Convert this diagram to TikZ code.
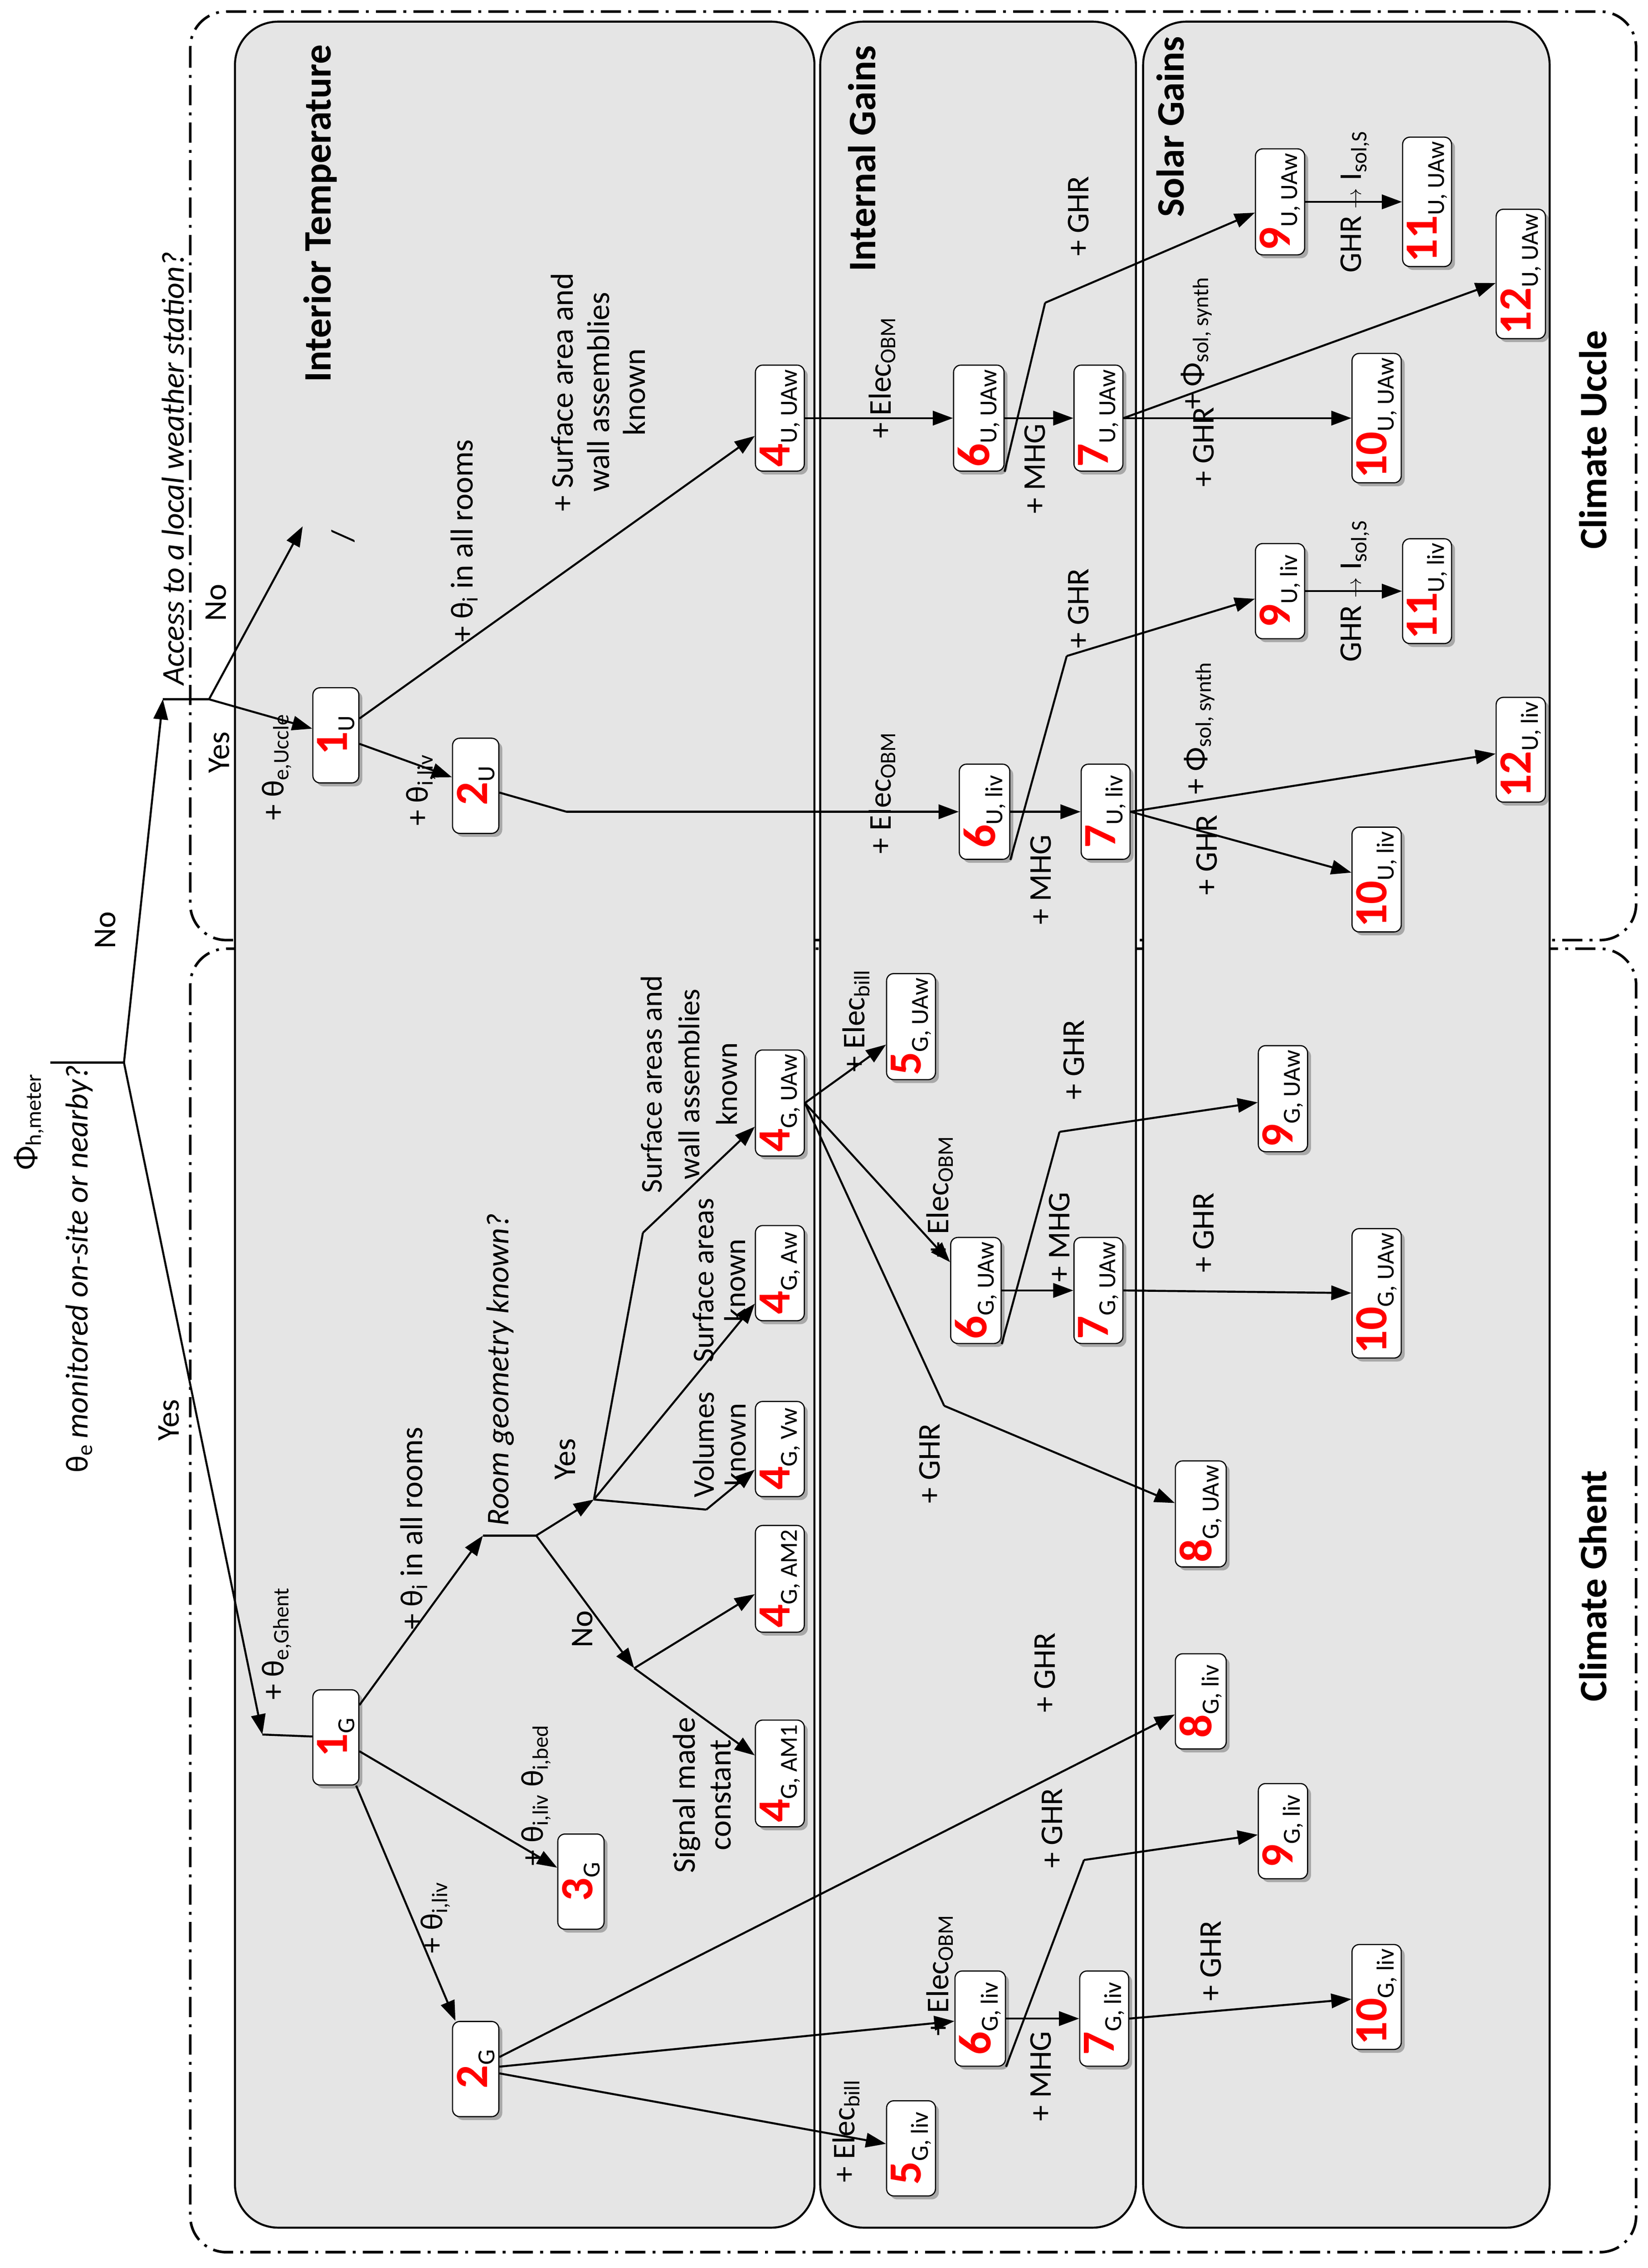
\documentclass[tikz,border=0pt]{standalone}
\usepackage{fontspec}
\setmainfont{Carlito}
\usetikzlibrary{arrows.meta,shadows}
\tikzset{
  box/.style={draw,thick,rounded corners=5pt,fill=white,drop shadow={opacity=0.6},rotate=90,minimum width=66pt,minimum height=31pt,inner sep=3pt,font=\fontsize{22}{24}\selectfont},
  lbl/.style={rotate=90,font=\fontsize{22}{25}\selectfont,align=center,inner sep=1pt},
  ttl/.style={rotate=90,font=\fontsize{27}{30}\selectfont\bfseries},
  panel/.style={draw,line width=1.4pt,fill=black!10,rounded corners=30pt},
  zone/.style={draw,line width=1.8pt,dash pattern=on 14pt off 5pt on 2pt off 5pt,rounded corners=25pt},
  arr/.style={line width=1.4pt,-{Triangle[length=14pt,width=10pt]}},
  ln/.style={line width=1.4pt}
}
\newcommand{\bx}[2]{{\fontsize{32}{32}\selectfont\bfseries\color{red}#1}\raisebox{-5pt}{\fontsize{17}{17}\selectfont #2}}
\newcommand{\thk}{{\Large$\rightarrow$}}
\begin{document}
\begin{tikzpicture}[x=1pt,y=-1pt]
\useasboundingbox (0,0) rectangle (1143,1573);
% climate zones and panels
\draw[zone] (132,8) rectangle (1135,652);
\draw[zone] (132,658) rectangle (1135,1562);
\draw[panel] (163,15) rectangle (565,1545);
\draw[panel] (569,15) rectangle (788,1545);
\draw[panel] (793,15) rectangle (1075,1545);
\node[ttl] (tIT) at (222,148) {Interior Temperature};
\node[ttl] (tIG) at (598,110) {Internal Gains};
\node[ttl] (tSG) at (812,88) {Solar Gains};
\node[ttl] (tCU) at (1105,305) {Climate Uccle};
\node[ttl] (tCG) at (1105,1100) {Climate Ghent};

% root
\node[lbl] (root) at (20,778) {Φ\textsubscript{h,meter}};
\node[lbl] (q1) at (55,880) {θ\textsubscript{e}\,\itshape monitored on-site or nearby?};
\coordinate (r0) at (35,737);
\coordinate (r1) at (86,737);
\coordinate (qU) at (113,485);
\coordinate (qU2) at (145,485);
\coordinate (qG) at (182,1203);
\draw[ln] (r0) -- (r1);
\draw[arr] (r1) -- (qU);
\draw[ln] (qU) -- (qU2);
\draw[arr] (r1) -- (qG);
\node[lbl] at (73,645) {No};
\node[lbl] at (117,985) {Yes};
\node[lbl] (q2) at (120,325) {\itshape Access to a local weather station?};
\coordinate (noU) at (210,365);
\draw[arr] (qU2) -- (noU);
\node[lbl] at (150,418) {No};
\node[lbl] at (238,372) {/};
\node[lbl] at (152,522) {Yes};

% Uccle boxes
\node[box] (U1) at (233,510) {\bx{1}{U}};
\node[box] (U2) at (330,545) {\bx{2}{U}};
\node[box] (U4) at (541,290) {\bx{4}{U, UAw}};
\node[box] (U6a) at (679,290) {\bx{6}{U, UAw}};
\node[box] (U7a) at (762,290) {\bx{7}{U, UAw}};
\node[box] (U9a) at (888,140) {\bx{9}{U, UAw}};
\node[box] (U11a) at (990,140) {\bx{11}{U, UAw}};
\node[box] (U12a) at (1055,190) {\bx{12}{U, UAw}};
\node[box] (U10a) at (955,290) {\bx{10}{U, UAw}};
\node[box] (U6b) at (683,563) {\bx{6}{U, liv}};
\node[box] (U7b) at (767,563) {\bx{7}{U, liv}};
\node[box] (U9b) at (888,410) {\bx{9}{U, liv}};
\node[box] (U11b) at (990,410) {\bx{11}{U, liv}};
\node[box] (U12b) at (1055,520) {\bx{12}{U, liv}};
\node[box] (U10b) at (955,610) {\bx{10}{U, liv}};

% Uccle connectors
\draw[arr] (qU2) -- (U1);
\node[lbl] at (192,532) {+ θ\textsubscript{e,Uccle}};
\draw[arr] (U1) -- (U2);
\node[lbl] at (292,548) {+ θ\textsubscript{i,liv}};
\draw[arr] (U1) -- (U4);
\node[lbl] at (322,375) {+ θ\textsubscript{i} in all rooms};
\node[lbl] at (415,272) {+ Surface area and\\wall assemblies\\known};
\coordinate (u2b) at (393,563);
\draw[ln] (U2) -- (u2b);
\draw[arr] (u2b) -- (U6b);
\node[lbl] at (612,550) {+ Elec\textsubscript{OBM}};
\draw[arr] (U4) -- (U6a);
\node[lbl] at (612,262) {+ Elec\textsubscript{OBM}};
\draw[arr] (U6a) -- (U7a);
\node[lbl] at (718,325) {+ MHG};
\coordinate (u6a) at (725,210);
\draw[ln] (U6a.south west) -- (u6a);
\draw[arr] (u6a) -- (U9a);
\node[lbl] at (748,150) {+ GHR};
\draw[arr] (U7a.south) -- (U12a);
\node[lbl] at (830,238) {+ Φ\textsubscript{sol, synth}};
\draw[arr] (U7a.south) -- (U10a);
\node[lbl] at (835,310) {+ GHR};
\draw[arr] (U9a) -- (U11a);
\node[lbl] at (940,140) {GHR \thk{} I\textsubscript{sol,S}};
\draw[arr] (U6b) -- (U7b);
\node[lbl] at (722,610) {+ MHG};
\coordinate (u6b) at (740,455);
\draw[ln] (U6b.south west) -- (u6b);
\draw[arr] (u6b) -- (U9b);
\node[lbl] at (748,422) {+ GHR};
\draw[arr] (U7b.south) -- (U12b);
\node[lbl] at (832,505) {+ Φ\textsubscript{sol, synth}};
\draw[arr] (U7b.south) -- (U10b);
\node[lbl] at (837,593) {+ GHR};
\draw[arr] (U9b) -- (U11b);
\node[lbl] at (940,410) {GHR \thk{} I\textsubscript{sol,S}};

% Ghent boxes
\node[box] (G1) at (233,1205) {\bx{1}{G}};
\node[box] (G2) at (330,1435) {\bx{2}{G}};
\node[box] (G3) at (403,1305) {\bx{3}{G}};
\node[box] (G4m1) at (541,1230) {\bx{4}{G, AM1}};
\node[box] (G4m2) at (541,1095) {\bx{4}{G, AM2}};
\node[box] (G4v) at (541,1005) {\bx{4}{G, Vw}};
\node[box] (G4a) at (541,883) {\bx{4}{G, Aw}};
\node[box] (G4u) at (541,765) {\bx{4}{G, UAw}};
\node[box] (G5a) at (632,712) {\bx{5}{G, UAw}};
\node[box] (G6a) at (677,895) {\bx{6}{G, UAw}};
\node[box] (G7a) at (762,895) {\bx{7}{G, UAw}};
\node[box] (G9a) at (890,762) {\bx{9}{G, UAw}};
\node[box] (G10a) at (955,897) {\bx{10}{G, UAw}};
\node[box] (G8a) at (833,1050) {\bx{8}{G, UAw}};
\node[box] (G8b) at (833,1180) {\bx{8}{G, liv}};
\node[box] (G9b) at (890,1270) {\bx{9}{G, liv}};
\node[box] (G6b) at (680,1400) {\bx{6}{G, liv}};
\node[box] (G7b) at (766,1400) {\bx{7}{G, liv}};
\node[box] (G10b) at (955,1385) {\bx{10}{G, liv}};
\node[box] (G5b) at (632,1490) {\bx{5}{G, liv}};

% Ghent connectors
\draw[ln] (qG) -- (G1);
\node[lbl] at (192,1140) {+ θ\textsubscript{e,Ghent}};
\draw[arr] (G1) -- (G3);
\node[lbl] at (372,1245) {+ θ\textsubscript{i,liv} θ\textsubscript{i,bed}};
\draw[arr] (G1) -- (G2);
\node[lbl] at (302,1330) {+ θ\textsubscript{i,liv}};
\coordinate (rg) at (335,1065);
\coordinate (rg2) at (372,1065);
\draw[arr] (G1) -- (rg);
\draw[ln] (rg) -- (rg2);
\node[lbl] at (287,1060) {+ θ\textsubscript{i} in all rooms};
\node[lbl] (q3) at (347,950) {\itshape Room geometry known?};
\coordinate (yes) at (412,1040);
\coordinate (no) at (440,1157);
\draw[arr] (rg2) -- (yes);
\node[lbl] at (392,1012) {Yes};
\draw[arr] (rg2) -- (no);
\node[lbl] at (404,1130) {No};
\coordinate (y1) at (446,855);
\draw[ln] (yes) -- (y1);
\draw[arr] (y1) -- (G4u);
\draw[arr] (yes) -- (G4a);
\coordinate (y3) at (490,1047);
\draw[ln] (yes) -- (y3);
\draw[arr] (y3) -- (G4v);
\node[lbl,font=\fontsize{21}{26}\selectfont] at (478,752) {Surface areas and\\wall assemblies\\known};
\node[lbl,font=\fontsize{21}{22}\selectfont] at (499,888) {Surface areas\\known};
\node[lbl,font=\fontsize{21}{22}\selectfont] at (499,1002) {Volumes\\known};
\draw[arr] (no) -- (G4m2);
\draw[arr] (no) -- (G4m1);
\node[lbl] at (487,1245) {Signal made\\constant};
\draw[arr] (G4u.south) -- (G5a);
\node[lbl] at (594,708) {+ Elec\textsubscript{bill}};
\draw[arr] (G4u.south) -- (G6a);
\node[lbl] at (652,830) {+ Elec\textsubscript{OBM}};
\coordinate (g4c) at (655,975);
\draw[ln] (G4u.south) -- (g4c);
\draw[arr] (g4c) -- (G8a);
\node[lbl] at (645,1015) {+ GHR};
\draw[arr] (G6a) -- (G7a);
\node[lbl] at (735,858) {+ MHG};
\coordinate (g6a) at (735,785);
\draw[ln] (G6a.south west) -- (g6a);
\draw[arr] (g6a) -- (G9a);
\node[lbl] at (745,735) {+ GHR};
\draw[arr] (G7a.south) -- (G10a);
\node[lbl] at (835,855) {+ GHR};
\draw[arr] (G2) -- (G8b);
\node[lbl] at (725,1160) {+ GHR};
\draw[arr] (G2) -- (G6b);
\node[lbl] at (652,1370) {+ Elec\textsubscript{OBM}};
\draw[arr] (G2) -- (G5b);
\node[lbl] at (587,1478) {+ Elec\textsubscript{bill}};
\draw[arr] (G6b) -- (G7b);
\node[lbl] at (722,1440) {+ MHG};
\coordinate (g6b) at (752,1290);
\draw[ln] (G6b.south west) -- (g6b);
\draw[arr] (g6b) -- (G9b);
\node[lbl] at (730,1268) {+ GHR};
\draw[arr] (G7b.south) -- (G10b);
\node[lbl] at (840,1360) {+ GHR};
\end{tikzpicture}
\end{document}
